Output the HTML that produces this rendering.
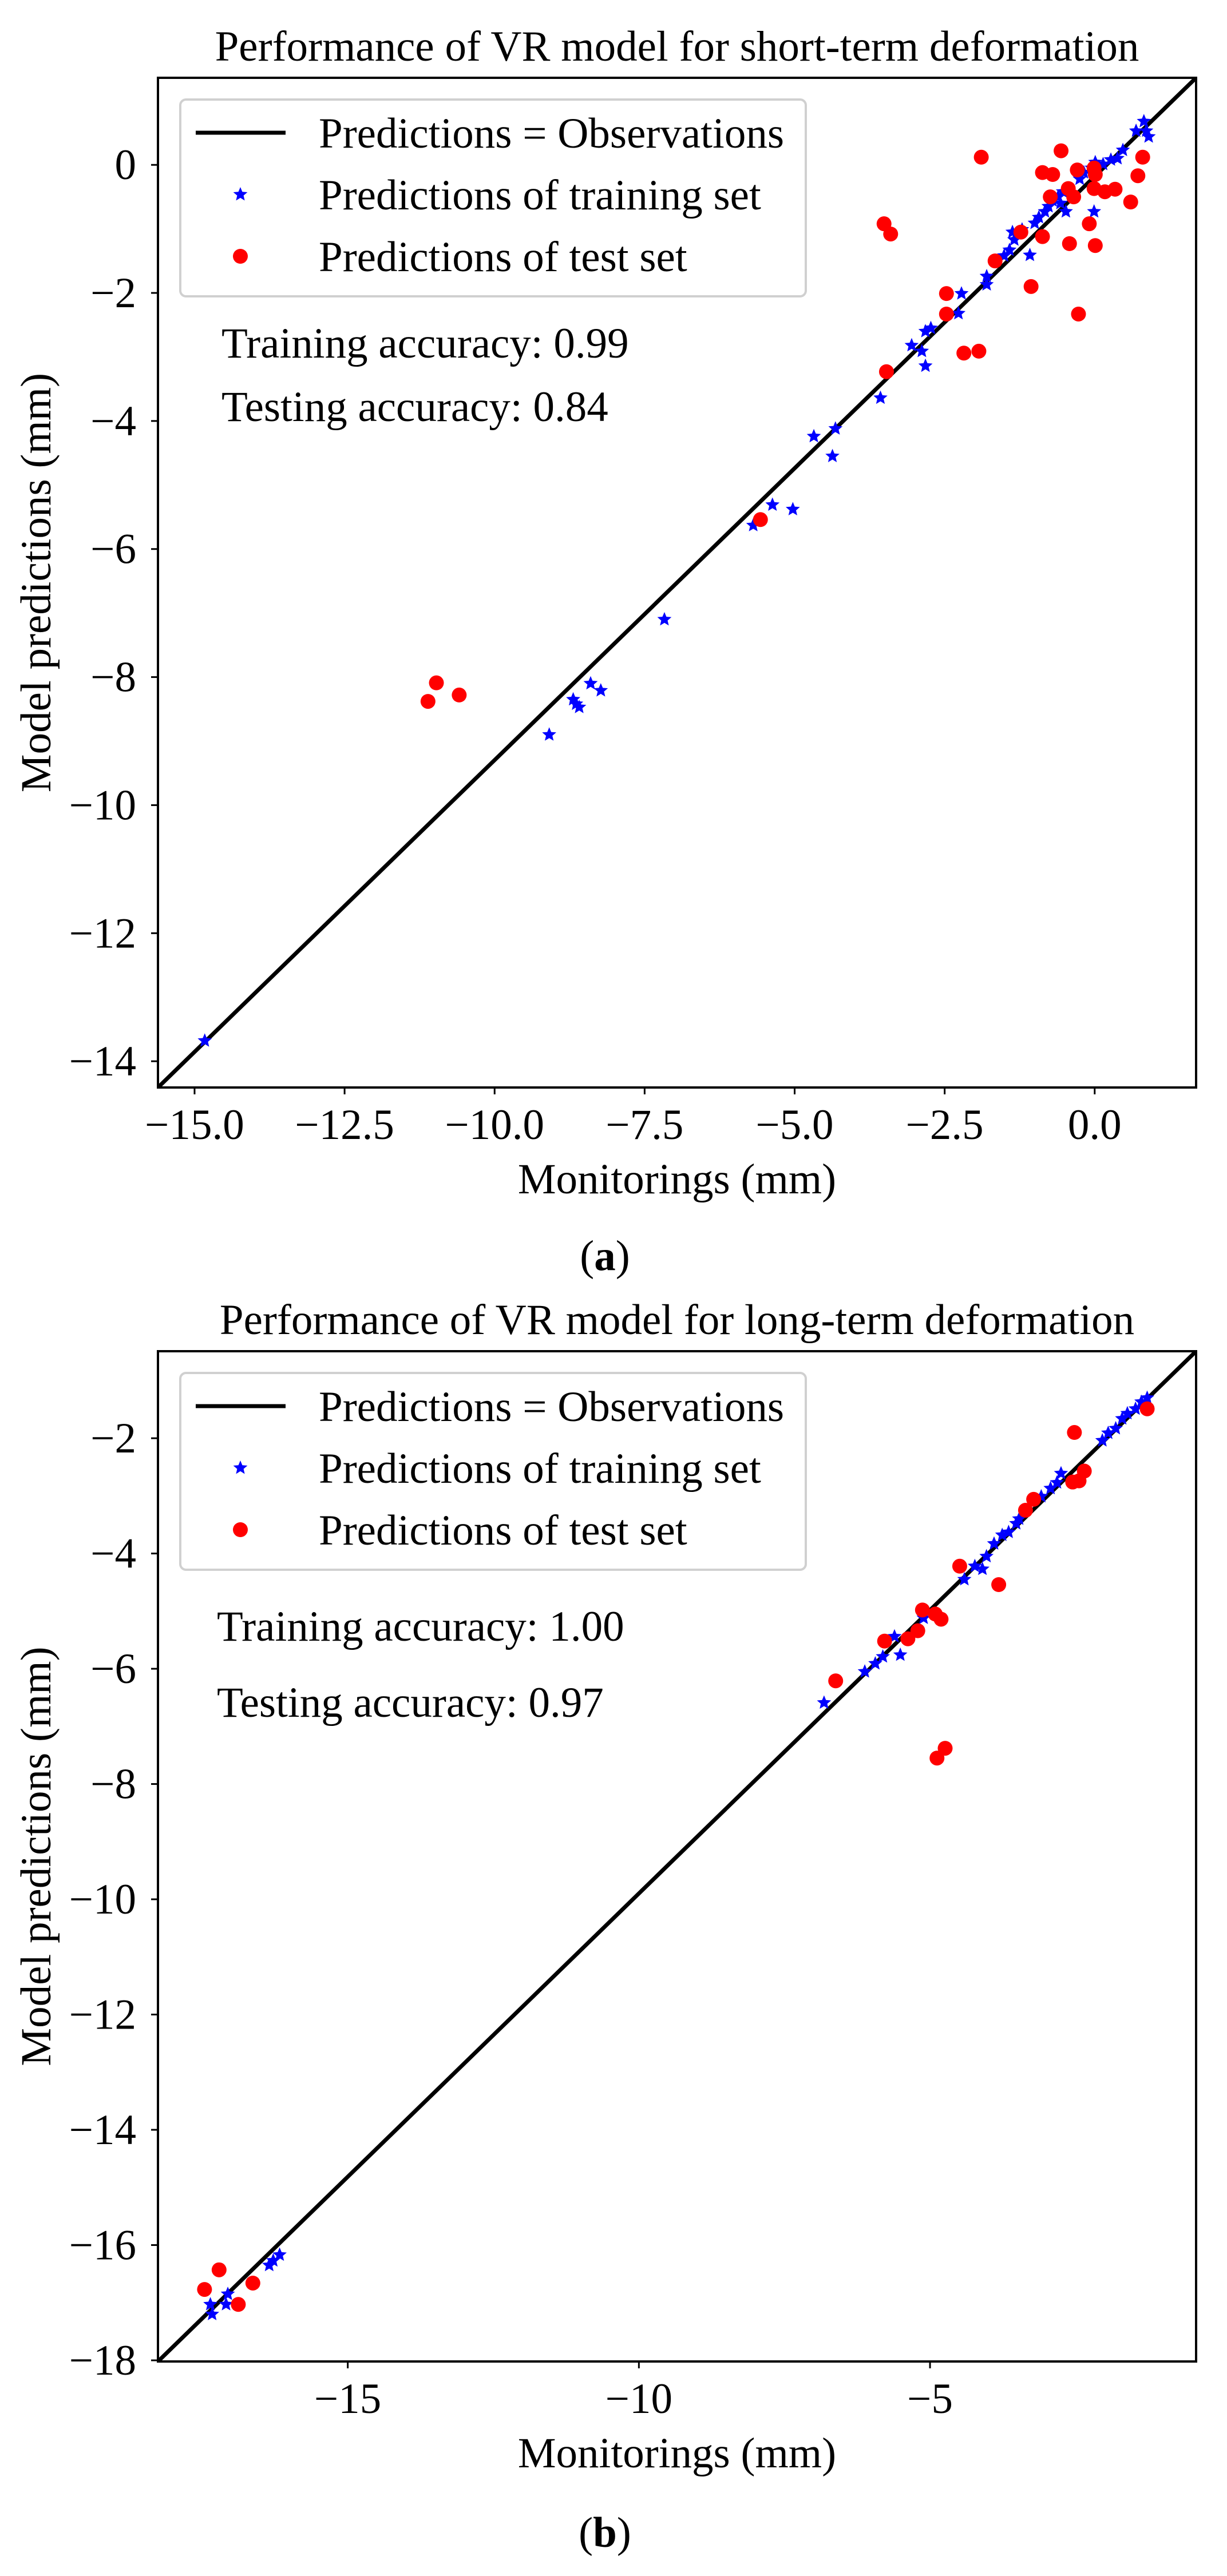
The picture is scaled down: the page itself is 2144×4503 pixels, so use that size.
<!DOCTYPE html>
<html><head><meta charset="utf-8"><style>
html,body{margin:0;padding:0;background:#fff;}
svg{display:block;}
text{font-family:"Liberation Serif","DejaVu Serif",serif;fill:#000;}
</style></head><body>
<svg id="fig" width="2144" height="4503" viewBox="0 0 2144 4503" xmlns="http://www.w3.org/2000/svg"></svg>
<script>
// Panel (a) data
const aTrainX = [-14.83,-9.09,-8.69,-8.64,-8.59,-8.40,-8.23,-7.17,-5.69,-5.37,-5.03,-4.68,-4.37,-4.32,-3.57,-3.05,-2.88,-2.82,-2.82,-2.73,-2.27,-2.22,-1.80,-1.80,-1.51,-1.42,-1.34,-1.37,-1.21,-1.08,-1.00,-0.93,-0.83,-0.77,-0.70,-0.61,-0.53,-0.48,-0.57,-0.25,-0.18,-0.05,0.01,0.14,-0.01,0.27,0.38,0.47,0.69,0.82,0.86,0.90];
const aTrainY = [-13.68,-8.90,-8.35,-8.42,-8.47,-8.10,-8.21,-7.10,-5.63,-5.31,-5.38,-4.24,-4.55,-4.12,-3.64,-2.82,-2.91,-3.14,-2.60,-2.55,-2.32,-2.01,-1.87,-1.74,-1.42,-1.33,-1.17,-1.05,-1.01,-1.41,-0.91,-0.82,-0.73,-0.65,-0.56,-0.50,-0.42,-0.73,-0.60,-0.22,-0.12,-0.05,0.04,0.01,-0.73,0.08,0.10,0.23,0.53,0.68,0.53,0.44];
const aTestX = [-11.11,-10.97,-10.59,-5.57,-3.51,-3.40,-3.47,-2.47,-2.47,-2.18,-1.93,-1.89,-1.66,-1.23,-1.06,-0.87,-0.87,-0.70,-0.74,-0.56,-0.42,-0.44,-0.35,-0.29,-0.27,-0.09,-0.01,-0.01,0.01,0.01,0.17,0.34,0.60,0.72,0.80];
const aTestY = [-8.38,-8.09,-8.28,-5.54,-0.92,-1.08,-3.23,-2.01,-2.33,-2.94,-2.91,0.12,-1.50,-1.05,-1.90,-1.12,-0.12,-0.15,-0.50,0.22,-1.23,-0.37,-0.50,-0.08,-2.33,-0.92,-0.05,-0.37,-1.26,-0.15,-0.42,-0.38,-0.58,-0.17,0.12];
const aXTicks = [-15.0,-12.5,-10.0,-7.5,-5.0,-2.5,0.0];
const aXTickLabels = ["\u221215.0","\u221212.5","\u221210.0","\u22127.5","\u22125.0","\u22122.5","0.0"];
const aYTicks = [0,-2,-4,-6,-8,-10,-12,-14];
const aYTickLabels = ["0","\u22122","\u22124","\u22126","\u22128","\u221210","\u221212","\u221214"];
// Panel (b) data
const bTrainX = [-17.33,-17.36,-17.09,-17.06,-16.35,-16.28,-16.17,-6.82,-6.12,-5.94,-5.81,-5.61,-5.51,-5.11,-4.41,-4.23,-4.10,-4.03,-3.90,-3.76,-3.65,-3.52,-3.47,-3.09,-2.93,-2.82,-2.75,-2.04,-1.94,-1.81,-1.70,-1.61,-1.47,-1.37,-1.27];
const bTrainY = [-17.20,-17.03,-17.03,-16.85,-16.35,-16.27,-16.17,-6.59,-6.05,-5.91,-5.79,-5.44,-5.76,-5.12,-4.45,-4.22,-4.27,-4.05,-3.83,-3.68,-3.63,-3.48,-3.40,-3.01,-2.87,-2.77,-2.61,-2.04,-1.91,-1.83,-1.66,-1.57,-1.49,-1.37,-1.30];
const bTestX = [-17.46,-17.21,-16.88,-16.63,-6.62,-5.78,-5.38,-5.21,-5.13,-4.91,-4.81,-4.88,-4.74,-4.49,-3.82,-3.36,-3.22,-2.55,-2.44,-2.52,-2.35,-1.27];
const bTestY = [-16.77,-16.43,-17.03,-16.66,-6.21,-5.52,-5.48,-5.34,-4.98,-5.05,-5.14,-7.55,-7.38,-4.22,-4.54,-3.25,-3.06,-2.76,-2.74,-1.90,-2.57,-1.49];
const bXTicks = [-15,-10,-5];
const bXTickLabels = ["\u221215","\u221210","\u22125"];
const bYTicks = [-2,-4,-6,-8,-10,-12,-14,-16,-18];
const bYTickLabels = ["\u22122","\u22124","\u22126","\u22128","\u221210","\u221212","\u221214","\u221216","\u221218"];

const NS = "http://www.w3.org/2000/svg";
const svg = document.getElementById('fig');
function mk(tag, attrs, parent){
  const e = document.createElementNS(NS, tag);
  for (const k in attrs) e.setAttribute(k, attrs[k]);
  (parent||svg).appendChild(e);
  return e;
}
function starPath(cx, cy, R){
  const r = R*0.45; let d = "";
  for (let i=0;i<10;i++){
    const rad = i%2===0 ? R : r;
    const a = -Math.PI/2 + i*Math.PI/5;
    d += (i===0?"M":"L") + (cx+rad*Math.cos(a)).toFixed(1) + " " + (cy+rad*Math.sin(a)).toFixed(1);
  }
  return d + "Z";
}
function panel(cfg){
  const g = mk('g', {});
  
  
  const L=276, R=2090, T=cfg.top, B=cfg.bottom;
  const sx = v => L + (v - cfg.xmin)/(cfg.xmax - cfg.xmin)*(R-L);
  const sy = v => B - (v - cfg.ymin)/(cfg.ymax - cfg.ymin)*(B-T);
  const t = mk('text', {x:1183, y:T-30, 'font-size':75, 'text-anchor':'middle'}, g);
  t.textContent = cfg.title;
  
  
  const cid = cfg.name + '-clip';
  const cp = mk('clipPath', {id:cid}, g);
  mk('rect', {x:L, y:T, width:R-L, height:B-T}, cp);
  const plot = mk('g', {'clip-path':'url(#'+cid+')'}, g);
  // reference line drawn corner to corner of the axis limits
  const ln = mk('line', {x1:sx(cfg.xmin), y1:sy(cfg.ymin), x2:sx(cfg.xmax), y2:sy(cfg.ymax), stroke:'#000', 'stroke-width':7}, plot);
  
  
  for (let i=0;i<cfg.trX.length;i++){
    const p = mk('path', {d:starPath(sx(cfg.trX[i]), sy(cfg.trY[i]), 13), fill:'#0000ff'}, plot);
    
    
  }
  for (let i=0;i<cfg.teX.length;i++){
    const c = mk('circle', {cx:sx(cfg.teX[i]), cy:sy(cfg.teY[i]), r:13, fill:'#ff0000'}, plot);
    
    
  }
  const fr = mk('rect', {x:L, y:T, width:R-L, height:B-T, fill:'none', stroke:'#000', 'stroke-width':4}, g);
  
  
  for (let i=0;i<cfg.xt.length;i++){
    const x = sx(cfg.xt[i]);
    mk('line', {x1:x, y1:B, x2:x, y2:B+12, stroke:'#000', 'stroke-width':3}, g);
    const tl = mk('text', {x:x, y:B+90, 'font-size':75, 'text-anchor':'middle'}, g);
    tl.textContent = cfg.xtl[i];
    
    
  }
  for (let i=0;i<cfg.yt.length;i++){
    const y = sy(cfg.yt[i]);
    mk('line', {x1:L-12, y1:y, x2:L, y2:y, stroke:'#000', 'stroke-width':3}, g);
    const tl = mk('text', {x:238, y:y+25, 'font-size':75, 'text-anchor':'end'}, g);
    tl.textContent = cfg.ytl[i];
    
    
  }
  const xl = mk('text', {x:1183, y:B+185, 'font-size':75, 'text-anchor':'middle'}, g);
  xl.textContent = 'Monitorings (mm)';
  
  
  const yc = (T+B)/2;
  const yl = mk('text', {x:0, y:0, 'font-size':75, 'text-anchor':'middle', transform:'translate(88,'+yc+') rotate(-90)'}, g);
  yl.textContent = 'Model predictions (mm)';
  
  
  const lg = mk('g', {}, g);
  
  
  const ly = T + 38;
  mk('rect', {x:315, y:ly, width:1093, height:344, rx:10, fill:'#fff', 'fill-opacity':0.8, stroke:'#d0d0d0', 'stroke-width':4}, lg);
  const rows = [ly+58, ly+166, ly+274];
  mk('line', {x1:342, y1:rows[0], x2:499, y2:rows[0], stroke:'#000', 'stroke-width':7}, lg);
  mk('path', {d:starPath(420, rows[1], 13), fill:'#0000ff'}, lg);
  mk('circle', {cx:420, cy:rows[2], r:13, fill:'#ff0000'}, lg);
  const labels = ['Predictions = Observations','Predictions of training set','Predictions of test set'];
  for (let i=0;i<3;i++){
    const tx = mk('text', {x:557, y:rows[i]+26, 'font-size':75}, lg);
    tx.textContent = labels[i];
    
    
  }
  const a1 = mk('text', {x:cfg.annX, y:cfg.ann1Y, 'font-size':75}, g);
  a1.textContent = cfg.ann1;
  
  
  const a2 = mk('text', {x:cfg.annX, y:cfg.ann2Y, 'font-size':75}, g);
  a2.textContent = cfg.ann2;
  
  
  const sl = mk('text', {x:1057, y:cfg.subY, 'font-size':75, 'text-anchor':'middle'}, g);
  sl.innerHTML = '(<tspan font-weight="bold">' + cfg.sub + '</tspan>)';
  
  
}
panel({name:'panel-a', title:'Performance of VR model for short-term deformation',
  top:136, bottom:1901, xmin:-15.61, xmax:1.69, ymin:-14.41, ymax:1.36,
  trX:aTrainX, trY:aTrainY, teX:aTestX, teY:aTestY,
  xt:aXTicks, xtl:aXTickLabels, yt:aYTicks, ytl:aYTickLabels,
  annX:387, ann1Y:625, ann2Y:736, ann1:'Training accuracy: 0.99', ann2:'Testing accuracy: 0.84',
  sub:'a', subY:2220});
panel({name:'panel-b', title:'Performance of VR model for long-term deformation',
  top:2362, bottom:4128, xmin:-18.26, xmax:-0.43, ymin:-18.02, ymax:-0.49,
  trX:bTrainX, trY:bTrainY, teX:bTestX, teY:bTestY,
  xt:bXTicks, xtl:bXTickLabels, yt:bYTicks, ytl:bYTickLabels,
  annX:379, ann1Y:2868, ann2Y:3001, ann1:'Training accuracy: 1.00', ann2:'Testing accuracy: 0.97',
  sub:'b', subY:4452});
</script>
</body></html>
